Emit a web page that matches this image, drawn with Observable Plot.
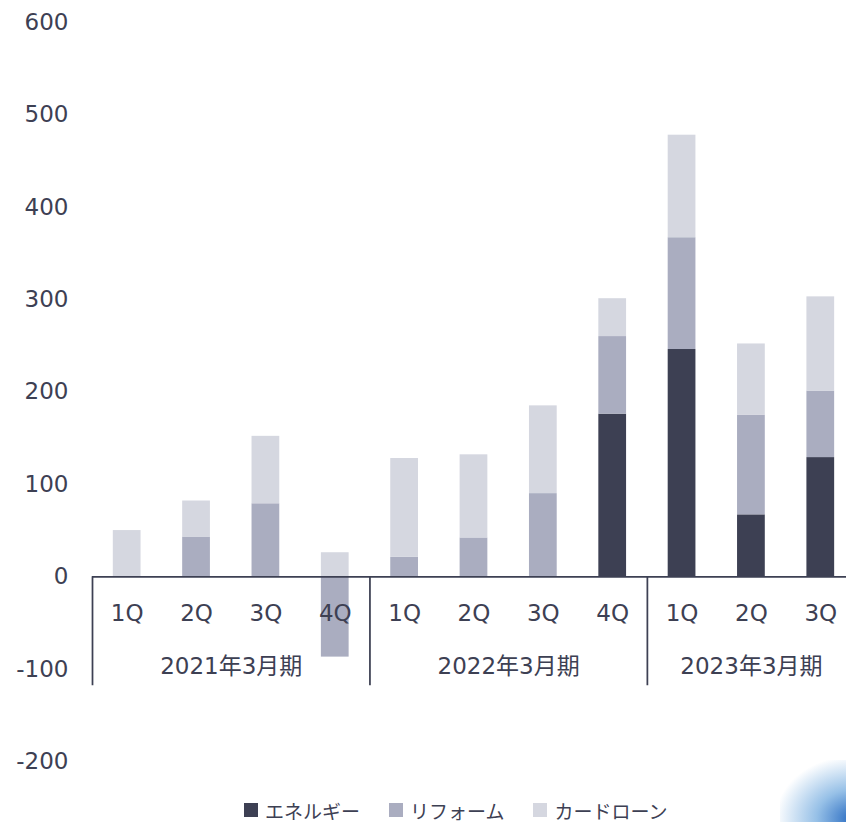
<!DOCTYPE html>
<html><head><meta charset="utf-8">
<script src="https://cdn.jsdelivr.net/npm/d3@7"></script>
<script src="https://cdn.jsdelivr.net/npm/@observablehq/plot@0.6"></script>
<style>
html,body{margin:0;padding:0;background:#fff;overflow:hidden;}
body{width:846px;height:822px;position:relative;font-family:"DejaVu Sans","Noto Sans CJK JP",sans-serif;color:#3d4053;}
#chart{position:absolute;left:0;top:0;}
#legend{position:absolute;left:244px;top:798px;height:24px;display:flex;align-items:center;font-family:"Noto Sans CJK JP",sans-serif;font-size:19px;color:#3d4053;}
#legend .item{display:flex;align-items:center;margin-right:29px;}
#legend .sw{width:14px;height:14px;margin-right:7px;}
#blob{position:absolute;left:780px;top:760px;width:66px;height:62px;background:radial-gradient(ellipse at 110% 95%, rgba(30,100,190,0.95) 0%, rgba(80,150,215,0.6) 35%, rgba(255,255,255,0) 75%);}
</style>
</head><body>
<div id="chart"></div>
<div id="legend"></div>
<div id="blob"></div>
<script>
const quarters = ["1Q","2Q","3Q","4Q","1Q","2Q","3Q","4Q","1Q","2Q","3Q"];
const periods = ["2021年3月期","2022年3月期","2023年3月期"];
const periodSizes = [4, 4, 3];
const seriesNames = ["エネルギー","リフォーム","カードローン"];
const seriesColors = ["#3d4053","#aaadc0","#d5d7e0"];
const energy = [0, 0, 0, 0, 0, 0, 0, 176, 246, 67, 129];
const reform = [0, 43, 79, -87, 21, 42, 90, 84, 121, 108, 72];
const card = [50, 39, 73, 26, 107, 90, 95, 41, 111, 77, 102];
const yTicks = [-200, -100, 0, 100, 200, 300, 400, 500, 600];

const seriesValues = [energy, reform, card];
const rows = [];
quarters.forEach((q, i) => {
  seriesNames.forEach((s, k) => rows.push({i, series: s, value: seriesValues[k][i]}));
});
const starts = periodSizes.map((n, k) => d3.sum(periodSizes.slice(0, k)));
const groups = periods.map((p, k) => ({label: p, start: starts[k], mid: starts[k] + periodSizes[k] / 2}));

const ink = "#3d4053";
const fs = 23;
const chart = Plot.plot({
  width: 846, height: 780,
  marginLeft: 92, marginRight: 0, marginTop: 22, marginBottom: 19,
  x: {domain: [0, quarters.length], range: [92, 92 + quarters.length * 69.36], axis: null},
  y: {domain: [-200, 600], label: null},
  color: {domain: seriesNames, range: seriesColors},
  style: {fontFamily: '"DejaVu Sans","Noto Sans CJK JP",sans-serif', color: ink, background: "transparent", overflow: "visible"},
  marks: [
    Plot.axisY(yTicks, {tickSize: 0, tickPadding: 24, fontSize: fs, label: null, fill: ink, tickFormat: d => String(d)}),
    Plot.rect(rows, Plot.stackY({x1: d => d.i + 0.3, x2: d => d.i + 0.7, y: "value", fill: "series"})),
    Plot.ruleY([0], {stroke: ink, strokeWidth: 1.75}),
    Plot.ruleX(groups, {x: "start", y1: 0, y2: -118, stroke: ink, strokeWidth: 1.75}),
    Plot.text(quarters, {x: (d, i) => i + 0.5, y: 0, dy: 37, text: d => d, fontSize: fs, fill: ink}),
    Plot.text(groups, {x: "mid", y: 0, dy: 90, text: "label", fontSize: fs, fill: ink})
  ]
});
document.getElementById("chart").appendChild(chart);

const legend = document.getElementById("legend");
seriesNames.forEach((s, k) => {
  const item = document.createElement("div");
  item.className = "item";
  const sw = document.createElement("span");
  sw.className = "sw";
  sw.style.background = seriesColors[k];
  const t = document.createElement("span");
  t.textContent = s;
  item.appendChild(sw); item.appendChild(t);
  legend.appendChild(item);
});
</script>
</body></html>
